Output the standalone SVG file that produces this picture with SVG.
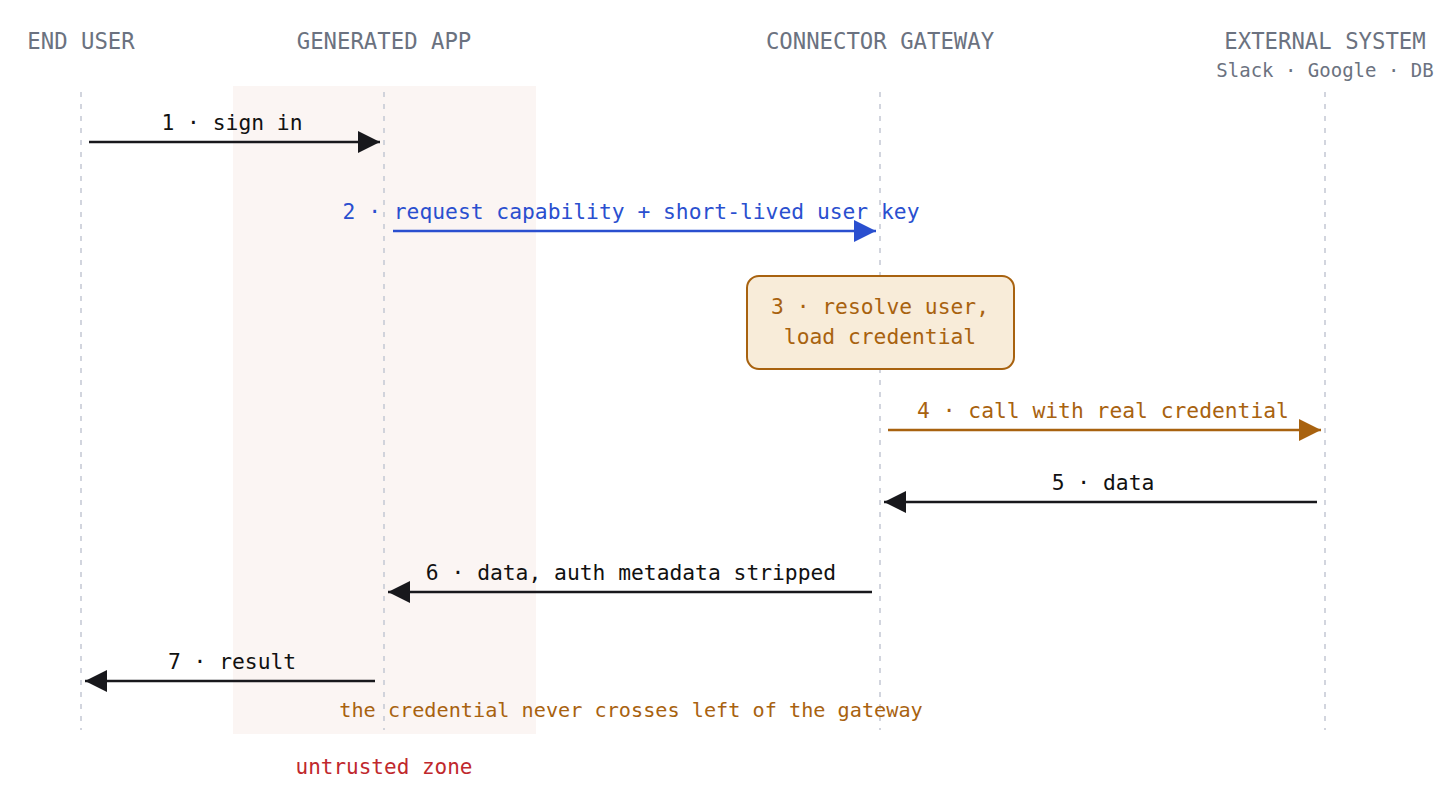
<svg xmlns="http://www.w3.org/2000/svg" width="1456" height="811" viewBox="0 0 1456 811">
<style>
  text { font-family: "DejaVu Sans Mono", "Liberation Mono", monospace; }
  .hdr { font-size: 22.3px; fill: #6b7280; text-anchor: middle; }
  .sub { font-size: 19px; fill: #6b7280; text-anchor: middle; }
  .lbl { font-size: 21.3px; text-anchor: middle; }
  .note { font-size: 20.2px; text-anchor: middle; }
  .life { stroke: #c4c8d4; stroke-width: 1.5; stroke-dasharray: 5 7; fill: none; }
  .msg { stroke-width: 2.5; fill: none; }
</style>
<defs>
  <marker id="ahK" markerUnits="userSpaceOnUse" markerWidth="24" markerHeight="22" refX="22" refY="11" orient="auto"><path d="M0,0 L22,11 L0,22 Z" fill="#18181c"/></marker>
  <marker id="ahB" markerUnits="userSpaceOnUse" markerWidth="24" markerHeight="22" refX="22" refY="11" orient="auto"><path d="M0,0 L22,11 L0,22 Z" fill="#2a4fcf"/></marker>
  <marker id="ahO" markerUnits="userSpaceOnUse" markerWidth="24" markerHeight="22" refX="22" refY="11" orient="auto"><path d="M0,0 L22,11 L0,22 Z" fill="#a8620f"/></marker>
</defs>
<rect width="1456" height="811" fill="#ffffff"/>
<rect id="untrusted-zone" x="233" y="86" width="303" height="648" fill="#fbf5f3"/>

<g id="lifelines">
  <line class="life" x1="81" y1="92" x2="81" y2="730"/>
  <line class="life" x1="384" y1="92" x2="384" y2="730"/>
  <line class="life" x1="880" y1="92" x2="880" y2="730"/>
  <line class="life" x1="1325" y1="92" x2="1325" y2="730"/>
</g>

<g id="end-user"><text class="hdr" x="81" y="49">END USER</text></g>
<g id="generated-app"><text class="hdr" x="384" y="49">GENERATED APP</text></g>
<g id="connector-gateway"><text class="hdr" x="880" y="49">CONNECTOR GATEWAY</text></g>
<g id="external-system">
  <text class="hdr" x="1325" y="49">EXTERNAL SYSTEM</text>
  <text class="sub" x="1325" y="77">Slack · Google · DB</text>
</g>

<g id="step3">
  <rect x="747" y="276" width="267" height="93" rx="12" fill="#f8ecd9" stroke="#a8620f" stroke-width="2"/>
  <text class="lbl" x="880" y="314" fill="#a8620f">3 · resolve user,</text>
  <text class="lbl" x="880" y="344" fill="#a8620f">load credential</text>
</g>

<g id="connectors">
  <line class="msg" x1="89" y1="142" x2="380" y2="142" stroke="#18181c" marker-end="url(#ahK)"/>
  <text class="lbl" x="232" y="130" fill="#111">1 · sign in</text>

  <line class="msg" x1="393" y1="231" x2="876" y2="231" stroke="#2a4fcf" marker-end="url(#ahB)"/>
  <text class="lbl" x="631" y="219" fill="#2a4fcf">2 · request capability + short-lived user key</text>

  <line class="msg" x1="888" y1="430" x2="1321" y2="430" stroke="#a8620f" marker-end="url(#ahO)"/>
  <text class="lbl" x="1103" y="418" fill="#a8620f">4 · call with real credential</text>

  <line class="msg" x1="1317" y1="502" x2="884" y2="502" stroke="#18181c" marker-end="url(#ahK)"/>
  <text class="lbl" x="1103" y="490" fill="#111">5 · data</text>

  <line class="msg" x1="872" y1="592" x2="388" y2="592" stroke="#18181c" marker-end="url(#ahK)"/>
  <text class="lbl" x="631" y="580" fill="#111">6 · data, auth metadata stripped</text>

  <line class="msg" x1="375" y1="681" x2="85" y2="681" stroke="#18181c" marker-end="url(#ahK)"/>
  <text class="lbl" x="232" y="669" fill="#111">7 · result</text>
</g>

<g id="notes">
  <text class="note" x="631" y="717" fill="#a8620f">the credential never crosses left of the gateway</text>
  <text class="note" x="384" y="774" fill="#c0282d" style="font-size:21px">untrusted zone</text>
</g>
</svg>
